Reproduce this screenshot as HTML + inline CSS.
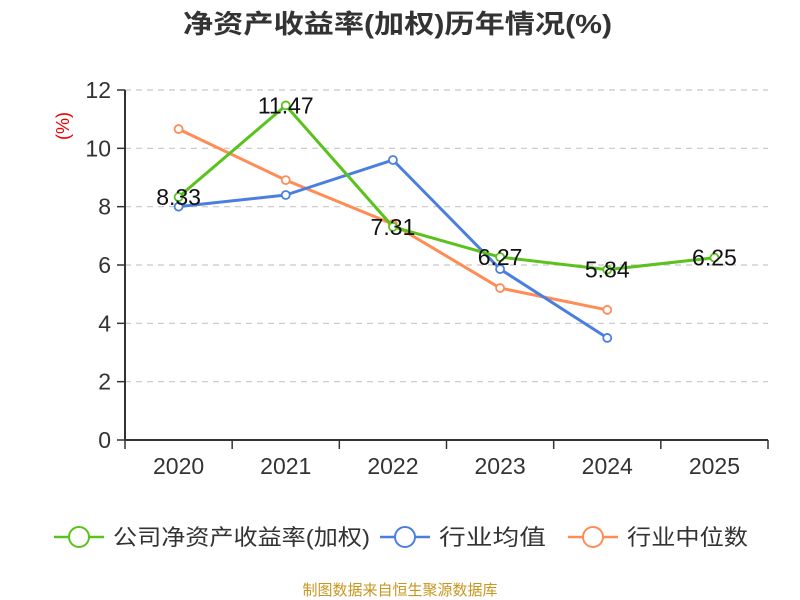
<!DOCTYPE html>
<html><head><meta charset="utf-8"><style>
body{margin:0;background:#fff;}
svg{display:block;font-family:"Liberation Sans","Noto Sans CJK SC",sans-serif;}
</style></head><body>
<svg id="chart" width="800" height="600">
<text x="183" y="33" textLength="429" lengthAdjust="spacingAndGlyphs" font-size="26" font-weight="bold" fill="#333">净资产收益率(加权)历年情况(%)</text>
<text transform="translate(69,126) rotate(-90)" text-anchor="middle" font-size="18" fill="#e00">(%)</text>
<g id="grid"></g><g id="axes"></g><g id="series"></g><g id="labels"></g>
<g font-size="22" fill="#333">
<g><line x1="54" y1="537" x2="104" y2="537" stroke="#5ac21c" stroke-width="2.5"/><circle cx="79" cy="537" r="10" fill="#fff" stroke="#5ac21c" stroke-width="2"/><text x="113" y="545" textLength="257" lengthAdjust="spacingAndGlyphs">公司净资产收益率(加权)</text></g>
<g><line x1="380" y1="537" x2="430" y2="537" stroke="#4a7fe0" stroke-width="2.5"/><circle cx="405" cy="537" r="10" fill="#fff" stroke="#4a7fe0" stroke-width="2"/><text x="439" y="545" textLength="107" lengthAdjust="spacingAndGlyphs">行业均值</text></g>
<g><line x1="568" y1="537" x2="618" y2="537" stroke="#ff8c55" stroke-width="2.5"/><circle cx="593" cy="537" r="10" fill="#fff" stroke="#ff8c55" stroke-width="2"/><text x="627" y="545" textLength="121" lengthAdjust="spacingAndGlyphs">行业中位数</text></g>
</g>
<text x="400" y="595" text-anchor="middle" font-size="15" fill="#c8961e">制图数据来自恒生聚源数据库</text>
</svg>
<script>
const categories=["2020","2021","2022","2023","2024","2025"];
const companyValues=[8.33,11.47,7.31,6.27,5.84,6.25];
const averageValues=[8.0,8.4,9.6,5.86,3.5];
const medianValues=[10.66,8.91,7.4,5.21,4.46];
const yTicks=[0,2,4,6,8,10,12];
const NS="http://www.w3.org/2000/svg";
const x0=125,x1=768,yBase=440,yTop=90,yMax=12;
const step=(x1-x0)/categories.length;
const xs=i=>x0+step*(i+0.5);
const ys=v=>yBase-(v/yMax)*(yBase-yTop);
function mk(tag,attrs,parent){const e=document.createElementNS(NS,tag);for(const k in attrs)e.setAttribute(k,attrs[k]);document.getElementById(parent).appendChild(e);return e;}
yTicks.forEach(t=>{
  if(t>0){const g=mk('line',{x1:x0,x2:x1,y1:ys(t),y2:ys(t),stroke:'#c8c8c8','stroke-dasharray':'6,5','stroke-width':1.2},'grid');
  
  }
  const tk=mk('line',{x1:x0-8,x2:x0,y1:ys(t),y2:ys(t),stroke:'#333','stroke-width':1.5},'axes');
  
  
  const tl=mk('text',{x:x0-14,y:ys(t)+8,'text-anchor':'end','font-size':23,fill:'#333'},'axes');
  tl.textContent=t;
  
  
});
const ya=mk('line',{x1:x0,x2:x0,y1:yTop,y2:yBase,stroke:'#333','stroke-width':2},'axes');


const xa=mk('line',{x1:x0,x2:x1,y1:yBase,y2:yBase,stroke:'#333','stroke-width':2},'axes');


for(let i=0;i<=categories.length;i++){
  const t=mk('line',{x1:x0+step*i,x2:x0+step*i,y1:yBase,y2:yBase+9,stroke:'#333','stroke-width':1.5},'axes');
  
  
}
categories.forEach((c,i)=>{
  const t=mk('text',{x:xs(i),y:474,'text-anchor':'middle','font-size':23,fill:'#333'},'axes');
  t.textContent=c;
  
  
});
function series(vals,color,name){
  const p=mk('polyline',{points:vals.map((v,i)=>xs(i)+','+ys(v)).join(' '),fill:'none',stroke:color,'stroke-width':3,'stroke-linejoin':'round'},'series');
  
  
  vals.forEach((v,i)=>{
    const c=mk('circle',{cx:xs(i),cy:ys(v),r:4,fill:'#fff',stroke:color,'stroke-width':1.8},'series');
    
    
  });
}
series(medianValues,'#ff8c55','industry-median');
series(averageValues,'#4a7fe0','industry-average');
series(companyValues,'#5ac21c','company');
companyValues.forEach((v,i)=>{
  const t=mk('text',{x:xs(i),y:ys(v)+8,'text-anchor':'middle','font-size':23,fill:'#111'},'labels');
  t.textContent=v.toFixed(2);
  
  
});
</script>
</body></html>
